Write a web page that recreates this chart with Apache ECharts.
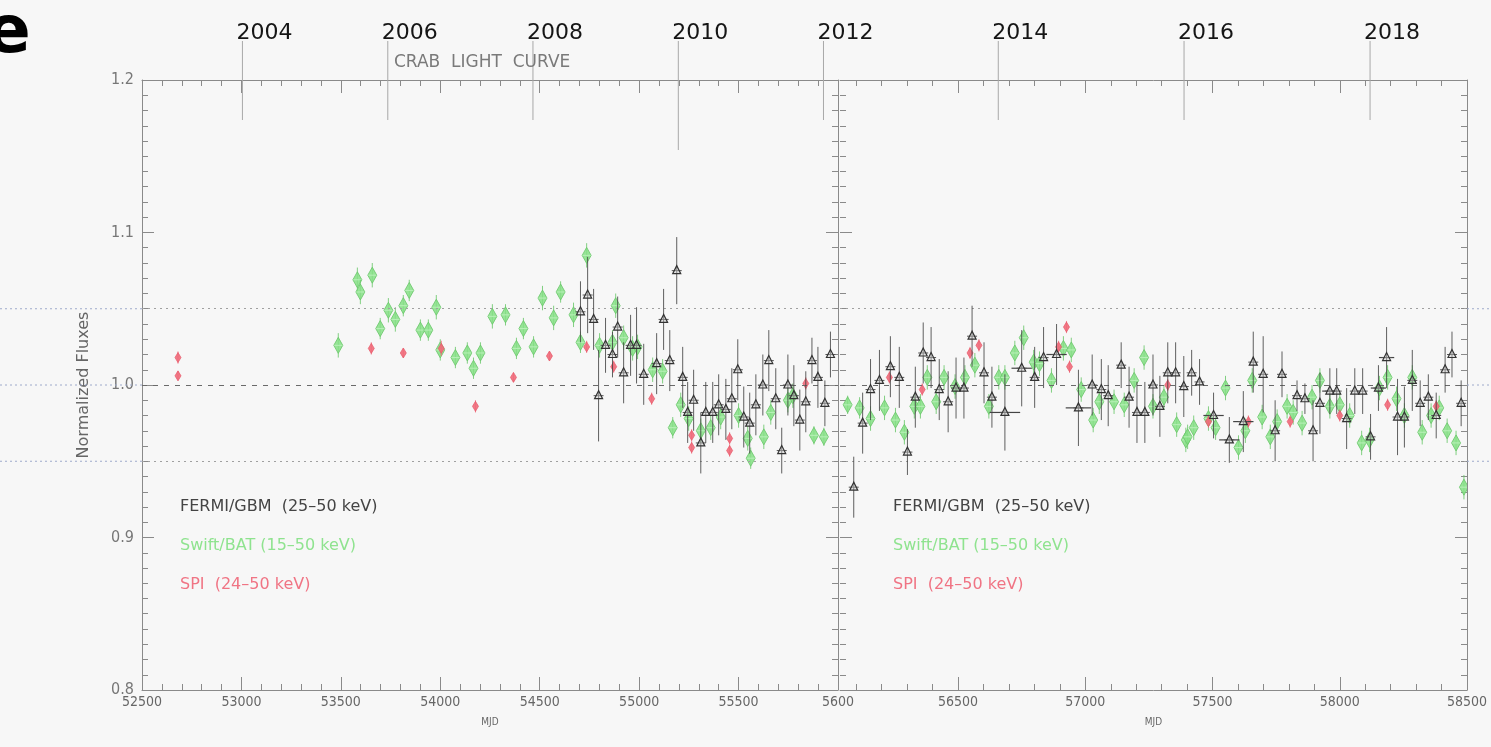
<!DOCTYPE html>
<html>
<head>
<meta charset="utf-8">
<script src="https://cdn.jsdelivr.net/npm/echarts@6/dist/echarts.min.js"></script>
<style>html,body{margin:0;padding:0;background:#f7f7f7;}#main{width:1491px;height:747px;}</style>
</head>
<body>
<div id="main"></div>
<script>
// ---------- DATA ----------
// [MJD, normalized flux, y error, x error]
const fermiData = [
  [54705,1.048,0.02],[54741,1.059,0.025],[54771,1.043,0.02],[54796,0.993,0.03],[54831,1.026,0.018],
  [54866,1.020,0.015],[54892,1.038,0.02],[54922,1.008,0.02],[54957,1.026,0.02],[54987,1.026,0.025],
  [55023,1.007,0.02],[55088,1.014,0.02],[55123,1.043,0.02],[55154,1.016,0.02],[55189,1.075,0.022],
  [55219,1.005,0.02],[55244,0.982,0.02],[55274,0.990,0.02],[55310,0.962,0.02],[55335,0.982,0.02],
  [55370,0.982,0.02],[55400,0.987,0.02],[55436,0.984,0.02],[55466,0.991,0.02],[55496,1.010,0.02],
  [55526,0.979,0.02],[55556,0.975,0.02],[55587,0.987,0.02],[55622,1.000,0.02],[55652,1.016,0.02],
  [55687,0.991,0.02],[55717,0.957,0.015],[55748,1.000,0.02],[55778,0.993,0.02],[55808,0.977,0.02],
  [55838,0.989,0.02],[55869,1.016,0.015],[55899,1.005,0.02],[55934,0.988,0.015],[55962,1.020,0.015],
  [56090,0.933,0.02],[56125,0.975,0.02],[56156,0.997,0.02],[56191,1.003,0.02],[56234,1.012,0.02],
  [56269,1.005,0.02],[56301,0.956,0.015],[56332,0.992,0.02],[56363,1.021,0.02],[56394,1.018,0.02],
  [56426,0.997,0.02],[56461,0.989,0.02],[56492,0.998,0.02],[56523,0.998,0.02],[56555,1.032,0.02],
  [56602,1.008,0.02],[56633,0.992,0.02],[56684,0.982,0.025,60],[56750,1.011,0.025,40],[56801,1.005,0.02],
  [56836,1.018,0.02],[56887,1.020,0.02,40],[56973,0.985,0.025,50],[57027,1.000,0.02],[57063,0.997,0.02],
  [57090,0.993,0.02],[57141,1.013,0.015],[57172,0.992,0.02],[57203,0.982,0.02],[57234,0.982,0.02],
  [57266,1.000,0.02],[57293,0.986,0.02],[57324,1.008,0.02],[57355,1.008,0.02],[57387,0.999,0.02],
  [57418,1.008,0.015],[57449,1.002,0.015],[57504,0.980,0.015,40],[57566,0.964,0.015,40],[57621,0.976,0.02,40],
  [57660,1.015,0.02],[57699,1.007,0.025],[57746,0.970,0.02],[57773,1.007,0.015],[57832,0.993,0.01],
  [57863,0.991,0.01],[57895,0.970,0.02],[57922,0.988,0.02],[57961,0.996,0.015,30],[57988,0.996,0.015],
  [58027,0.978,0.02],[58059,0.996,0.015],[58090,0.996,0.015],[58121,0.966,0.015],[58152,0.998,0.015,30],
  [58184,1.018,0.02,30],[58227,0.979,0.025],[58254,0.979,0.02],[58285,1.003,0.02],[58316,0.988,0.015],
  [58348,0.992,0.015],[58379,0.980,0.015],[58414,1.010,0.015],[58441,1.020,0.015],[58477,0.988,0.015]
];
const swiftData = [
  [53487,1.026,0.008],[53583,1.069,0.008],[53598,1.061,0.008],[53658,1.072,0.008],[53698,1.037,0.007],
  [53739,1.049,0.008],[53774,1.043,0.008],[53814,1.052,0.007],[53844,1.062,0.007],[53900,1.036,0.007],
  [53940,1.036,0.007],[53980,1.051,0.008],[54000,1.023,0.007],[54076,1.018,0.007],[54136,1.021,0.007],
  [54167,1.011,0.007],[54202,1.021,0.007],[54262,1.045,0.008],[54328,1.046,0.007],[54383,1.024,0.007],
  [54418,1.037,0.007],[54469,1.025,0.007],[54514,1.057,0.008],[54570,1.044,0.008],[54605,1.061,0.007],
  [54670,1.046,0.008],[54705,1.028,0.007],[54736,1.085,0.008],[54801,1.026,0.008],[54866,1.028,0.008],
  [54882,1.052,0.008],[54922,1.031,0.008],[54967,1.024,0.008],[54992,1.025,0.008],[55068,1.010,0.008],
  [55118,1.009,0.008],[55169,0.972,0.007],[55209,0.987,0.008],[55249,0.978,0.008],[55310,0.970,0.008],
  [55360,0.972,0.008],[55410,0.979,0.008],[55500,0.980,0.008],[55546,0.965,0.008],[55561,0.952,0.007],
  [55627,0.966,0.008],[55662,0.982,0.008],[55748,0.990,0.008],[55773,0.993,0.008],[55879,0.967,0.006],
  [55929,0.966,0.006],
  [56066,0.987,0.006],[56113,0.985,0.007],[56156,0.978,0.008],[56211,0.985,0.008],[56254,0.977,0.008],
  [56289,0.969,0.008],[56328,0.986,0.008],[56352,0.986,0.008],[56379,1.005,0.008],[56414,0.989,0.008],
  [56445,1.005,0.008],[56488,0.999,0.008],[56527,1.005,0.008],[56566,1.013,0.008],[56621,0.986,0.008],
  [56660,1.005,0.008],[56684,1.005,0.008],[56723,1.021,0.008],[56758,1.031,0.008],[56797,1.015,0.008],
  [56820,1.014,0.008],[56867,1.003,0.008],[56914,1.024,0.008],[56945,1.023,0.008],[56984,0.997,0.008],
  [57031,0.977,0.008],[57055,0.989,0.008],[57113,0.989,0.008],[57153,0.987,0.008],[57192,1.003,0.008],
  [57231,1.018,0.008],[57266,0.986,0.008],[57309,0.992,0.008],[57359,0.974,0.008],[57395,0.964,0.008],
  [57402,0.966,0.008],[57426,0.972,0.008],[57484,0.978,0.008],[57512,0.972,0.008],[57551,0.998,0.008],
  [57602,0.959,0.008],[57629,0.970,0.008],[57656,1.003,0.008],[57695,0.979,0.008],[57727,0.966,0.008],
  [57754,0.976,0.008],[57793,0.986,0.008],[57817,0.982,0.008],[57852,0.975,0.008],[57891,0.992,0.008],
  [57922,1.003,0.008],[57961,0.986,0.008],[58000,0.987,0.008],[58039,0.980,0.008],[58086,0.962,0.008],
  [58117,0.964,0.008],[58156,0.998,0.008],[58188,1.005,0.008],[58223,0.991,0.008],[58254,0.980,0.008],
  [58285,1.005,0.008],[58324,0.969,0.008],[58359,0.980,0.008],[58391,0.985,0.008],[58422,0.970,0.008],
  [58457,0.962,0.008],[58488,0.933,0.008]
];
const spiData = [
  [52681,1.018,0.004],[52681,1.006,0.003],[53653,1.024,0.004],[53814,1.021,0.003],[54005,1.024,0.005],
  [54177,0.986,0.004],[54368,1.005,0.003],[54549,1.019,0.003],[54736,1.025,0.004],[54872,1.012,0.004],
  [55063,0.991,0.004],[55264,0.967,0.004],[55264,0.959,0.004],[55455,0.965,0.004],[55455,0.957,0.004],
  [55838,1.001,0.004],
  [56230,1.005,0.004],[56359,0.997,0.004],[56547,1.021,0.004],[56582,1.026,0.004],[56895,1.025,0.004],
  [56926,1.038,0.004],[56938,1.012,0.004],[57324,1.000,0.004],[57484,0.976,0.004],[57641,0.976,0.004],
  [57805,0.976,0.004],[58000,0.980,0.004],[58188,0.987,0.004],[58379,0.986,0.004]
];
const yearLabels = ['2004','2006','2008','2010','2012','2014','2016','2018'];
const yearMjd = [53005,53736,54466,55197,55927,56658,57388,58119];
const refLevels = [1.05,1.0,0.95];
const rightXLabels = [56500,57000,57500,58000,58500];
const legendTexts = ['FERMI/GBM  (25\u201350 keV)','Swift/BAT (15\u201350 keV)','SPI  (24\u201350 keV)'];
const titleText = 'CRAB  LIGHT  CURVE';

// ---------- LAYOUT ----------
const PANEL_SPLIT = 56000;
const G0 = {left:142, top:80, width:696, height:610};
const G1 = {left:840, top:80, width:627, height:610};
const R_MIN = 56036, R_MAX = 58500;
const IDL = "'DejaVu Sans Condensed','Liberation Sans Narrow','DejaVu Sans',sans-serif";
const WIDE = "'DejaVu Sans',sans-serif";
const AX = '#8a8a8a';
const COLORS = {swift:'#86e086', swiftEdge:'#6cc86c', spi:'#f06a7a', legendSwift:'#8fe38f', legendSpi:'#f07484'};

const rightMinor = [];
for (let v = 56100; v < 58500; v += 100) if (v % 500 !== 0) rightMinor.push(v);

const chart = echarts.init(document.getElementById('main'), null, {renderer:'canvas'});

function render(kind) {
  return function (params, api) {
    const x = api.value(0), y = api.value(1), e = api.value(2);
    const xe = kind === 'fermi' ? (api.value(3) || 0) : 0;
    const c = api.coord([x, y]);
    const t = api.coord([x, y + e]);
    const b = api.coord([x, y - e]);
    const col = kind === 'fermi' ? '#444' : (kind === 'swift' ? COLORS.swiftEdge : COLORS.spi);
    const ch = [{type:'line', shape:{x1:c[0], y1:t[1], x2:c[0], y2:b[1]}, style:{stroke:col, lineWidth:1, opacity:0.85}}];
    if (xe) {
      const l = api.coord([x - xe, y]), r = api.coord([x + xe, y]);
      ch.push({type:'line', shape:{x1:l[0], y1:c[1], x2:r[0], y2:c[1]}, style:{stroke:col, lineWidth:1.2}});
    }
    if (kind === 'fermi') {
      ch.push({type:'line', shape:{x1:c[0]-5, y1:c[1], x2:c[0]+5, y2:c[1]}, style:{stroke:'#555', lineWidth:1}});
      ch.push({type:'polygon', shape:{points:[[c[0], c[1]-5],[c[0]-4, c[1]+3],[c[0]+4, c[1]+3]]}, style:{fill:'rgba(200,200,200,0.4)', stroke:'#333', lineWidth:1.2}});
    } else if (kind === 'swift') {
      ch.push({type:'polygon', shape:{points:[[c[0], c[1]-8],[c[0]+4.5, c[1]],[c[0], c[1]+8],[c[0]-4.5, c[1]]]}, style:{fill:COLORS.swift, stroke:COLORS.swiftEdge, lineWidth:1, opacity:0.85}});
      ch.push({type:'line', shape:{x1:c[0]-4, y1:c[1], x2:c[0]+4, y2:c[1]}, style:{stroke:'#b8f0b8', lineWidth:1}});
    } else {
      ch.push({type:'polygon', shape:{points:[[c[0], c[1]-5],[c[0]+3, c[1]],[c[0], c[1]+5],[c[0]-3, c[1]]]}, style:{fill:COLORS.spi, stroke:'#e85868', lineWidth:0.8, opacity:0.9}});
    }
    return {type:'group', children:ch};
  };
}

function split(arr, left) {
  return arr.filter(d => left ? d[0] < PANEL_SPLIT : d[0] >= PANEL_SPLIT).map(d => [d[0], d[1], d[2], d[3] || 0]);
}

function panelSeries(p) {
  const xi = p === 0 ? 0 : 2, yi = p === 0 ? 0 : 2;
  const left = p === 0;
  return [
    {type:'custom', name:'Swift/BAT', xAxisIndex:xi, yAxisIndex:yi, renderItem:render('swift'), data:split(swiftData, left), encode:{x:0,y:1}, z:3, clip:true,
      markLine:{silent:true, symbol:'none', label:{show:false}, animation:false,
        data:[
          {yAxis:1.0, lineStyle:{color:'#6a6a6a', type:[5,6], width:1}},
          {yAxis:1.05, lineStyle:{color:'#a0a0a0', type:[2,4], width:1}},
          {yAxis:0.95, lineStyle:{color:'#a0a0a0', type:[2,4], width:1}}
        ]}},
    {type:'custom', name:'SPI', xAxisIndex:xi, yAxisIndex:yi, renderItem:render('spi'), data:split(spiData, left), encode:{x:0,y:1}, z:4, clip:true},
    {type:'custom', name:'FERMI/GBM', xAxisIndex:xi, yAxisIndex:yi, renderItem:render('fermi'), data:split(fermiData, left), encode:{x:0,y:1}, z:5, clip:true}
  ];
}

const refSeries = {
  type:'custom', xAxisIndex:0, yAxisIndex:0, clip:false, silent:true, z:1,
  data: refLevels.map(v => [52500, v]), encode:{x:0,y:1},
  renderItem: function (params, api) {
    const y = api.coord([52500, api.value(1)])[1];
    const st = {stroke:'#9eaacb', lineWidth:1, lineDash:[2,3]};
    return {type:'group', children:[
      {type:'line', shape:{x1:0, y1:y, x2:G0.left, y2:y}, style:st},
      {type:'line', shape:{x1:G1.left + G1.width, y1:y, x2:api.getWidth(), y2:y}, style:st}
    ]};
  }
};

function yearSeries(p) {
  const idx = yearMjd.map((m, i) => i).filter(i => p === 0 ? yearMjd[i] < PANEL_SPLIT : yearMjd[i] >= PANEL_SPLIT);
  return {
    type:'custom', xAxisIndex: p === 0 ? 0 : 2, yAxisIndex: p === 0 ? 0 : 2, clip:false, silent:true, z:6,
    data: idx.map(i => [yearMjd[i], 1.2, i]), encode:{x:0,y:1},
    renderItem: function (params, api) {
      const c = api.coord([api.value(0), api.value(1)]);
      const lab = yearLabels[api.value(2)];
      return {type:'group', children:[
        {type:'line', shape:{x1:c[0], y1:41, x2:c[0], y2:c[1] + (lab === '2010' ? 70 : 40)}, style:{stroke:'#a8a8a8', lineWidth:1}},
        {type:'text', style:{text:lab, x:c[0]-6, y:33, verticalAlign:'middle', align:'left', fill:'#151515', font:'22px "DejaVu Sans", sans-serif'}}
      ]};
    }
  };
}

const axisLabelStyle = {color:'#666', fontFamily:IDL, fontSize:14};

const option = {
  backgroundColor:'#f7f7f7',
  animation:false,
  title:{text:titleText, left:389, top:49, textStyle:{fontFamily:WIDE, fontSize:17, fontWeight:'normal', color:'#7a7a7a'}},
  grid:[
    {left:G0.left, top:G0.top, width:G0.width, height:G0.height, show:false},
    {left:G1.left, top:G1.top, width:G1.width, height:G1.height, show:false}
  ],
  xAxis:[
    {type:'value', gridIndex:0, position:'bottom', min:52500, max:56000, interval:500,
      axisLine:{lineStyle:{color:AX}}, splitLine:{show:false},
      axisTick:{inside:true, length:13, lineStyle:{color:AX}},
      minorTick:{show:true, splitNumber:5, length:6, lineStyle:{color:AX}},
      axisLabel:{...axisLabelStyle, margin:5, showMinLabel:true, showMaxLabel:true, formatter:v => v === 56000 ? '5600' : String(v)},
      name:'MJD', nameLocation:'middle', nameGap:27, nameTextStyle:{fontFamily:IDL, fontSize:10, color:'#666'}},
    {type:'value', gridIndex:0, position:'top', min:52500, max:56000, interval:500,
      axisLine:{lineStyle:{color:AX}}, splitLine:{show:false}, axisLabel:{show:false},
      axisTick:{inside:true, length:13, lineStyle:{color:AX}},
      minorTick:{show:true, splitNumber:5, length:6, lineStyle:{color:AX}}},
    {type:'value', gridIndex:1, position:'bottom', min:R_MIN, max:R_MAX,
      axisLine:{lineStyle:{color:AX}}, splitLine:{show:false},
      axisTick:{inside:true, length:13, lineStyle:{color:AX}, customValues:rightXLabels},
      axisLabel:{...axisLabelStyle, margin:5, customValues:rightXLabels, formatter:v => String(v)},
      name:'MJD', nameLocation:'middle', nameGap:27, nameTextStyle:{fontFamily:IDL, fontSize:10, color:'#666'}},
    {type:'value', gridIndex:1, position:'top', min:R_MIN, max:R_MAX,
      axisLine:{lineStyle:{color:AX}}, splitLine:{show:false}, axisLabel:{show:false},
      axisTick:{inside:true, length:13, lineStyle:{color:AX}, customValues:rightXLabels}},
    {type:'value', gridIndex:1, position:'bottom', min:R_MIN, max:R_MAX,
      axisLine:{show:false}, splitLine:{show:false}, axisLabel:{show:false},
      axisTick:{inside:true, length:6, lineStyle:{color:AX}, customValues:rightMinor}},
    {type:'value', gridIndex:1, position:'top', min:R_MIN, max:R_MAX,
      axisLine:{show:false}, splitLine:{show:false}, axisLabel:{show:false},
      axisTick:{inside:true, length:6, lineStyle:{color:AX}, customValues:rightMinor}}
  ],
  yAxis:[
    {type:'value', gridIndex:0, position:'left', min:0.8, max:1.2, interval:0.1,
      axisLine:{show:true, lineStyle:{color:AX}}, splitLine:{show:false},
      axisTick:{show:true, inside:true, length:12, lineStyle:{color:AX}},
      minorTick:{show:true, splitNumber:10, length:6, lineStyle:{color:AX}},
      axisLabel:{color:'#777', fontFamily:IDL, fontSize:16, margin:8, formatter:v => v.toFixed(1)},
      name:'Normalized Fluxes', nameLocation:'middle', nameGap:50, nameRotate:90,
      nameTextStyle:{fontFamily:WIDE, fontSize:16, color:'#666'}},
    {type:'value', gridIndex:0, position:'right', min:0.8, max:1.2, interval:0.1,
      axisLine:{show:true, lineStyle:{color:AX}}, splitLine:{show:false}, axisLabel:{show:false},
      axisTick:{show:true, inside:true, length:12, lineStyle:{color:AX}},
      minorTick:{show:true, splitNumber:10, length:6, lineStyle:{color:AX}}},
    {type:'value', gridIndex:1, position:'left', min:0.8, max:1.2, interval:0.1,
      axisLine:{show:false}, splitLine:{show:false}, axisLabel:{show:false},
      axisTick:{show:true, inside:true, length:12, lineStyle:{color:AX}},
      minorTick:{show:true, splitNumber:10, length:6, lineStyle:{color:AX}}},
    {type:'value', gridIndex:1, position:'right', min:0.8, max:1.2, interval:0.1,
      axisLine:{show:true, lineStyle:{color:AX}}, splitLine:{show:false}, axisLabel:{show:false},
      axisTick:{show:true, inside:true, length:12, lineStyle:{color:AX}},
      minorTick:{show:true, splitNumber:10, length:6, lineStyle:{color:AX}}}
  ],
  graphic:[
    {type:'text', left:-14, top:2, style:{text:'e', font:'bold 66px "DejaVu Sans", sans-serif', fill:'#000'}},
    {type:'text', left:180, top:499, style:{text:legendTexts[0], font:'16px ' + WIDE, fill:'#444'}},
    {type:'text', left:180, top:538, style:{text:legendTexts[1], font:'16px ' + WIDE, fill:COLORS.legendSwift}},
    {type:'text', left:180, top:577, style:{text:legendTexts[2], font:'16px ' + WIDE, fill:COLORS.legendSpi}},
    {type:'text', left:893, top:499, style:{text:legendTexts[0], font:'16px ' + WIDE, fill:'#444'}},
    {type:'text', left:893, top:538, style:{text:legendTexts[1], font:'16px ' + WIDE, fill:COLORS.legendSwift}},
    {type:'text', left:893, top:577, style:{text:legendTexts[2], font:'16px ' + WIDE, fill:COLORS.legendSpi}}
  ],
  series:[refSeries, ...panelSeries(0), ...panelSeries(1), yearSeries(0), yearSeries(1)]
};
chart.setOption(option);
</script>
</body>
</html>
